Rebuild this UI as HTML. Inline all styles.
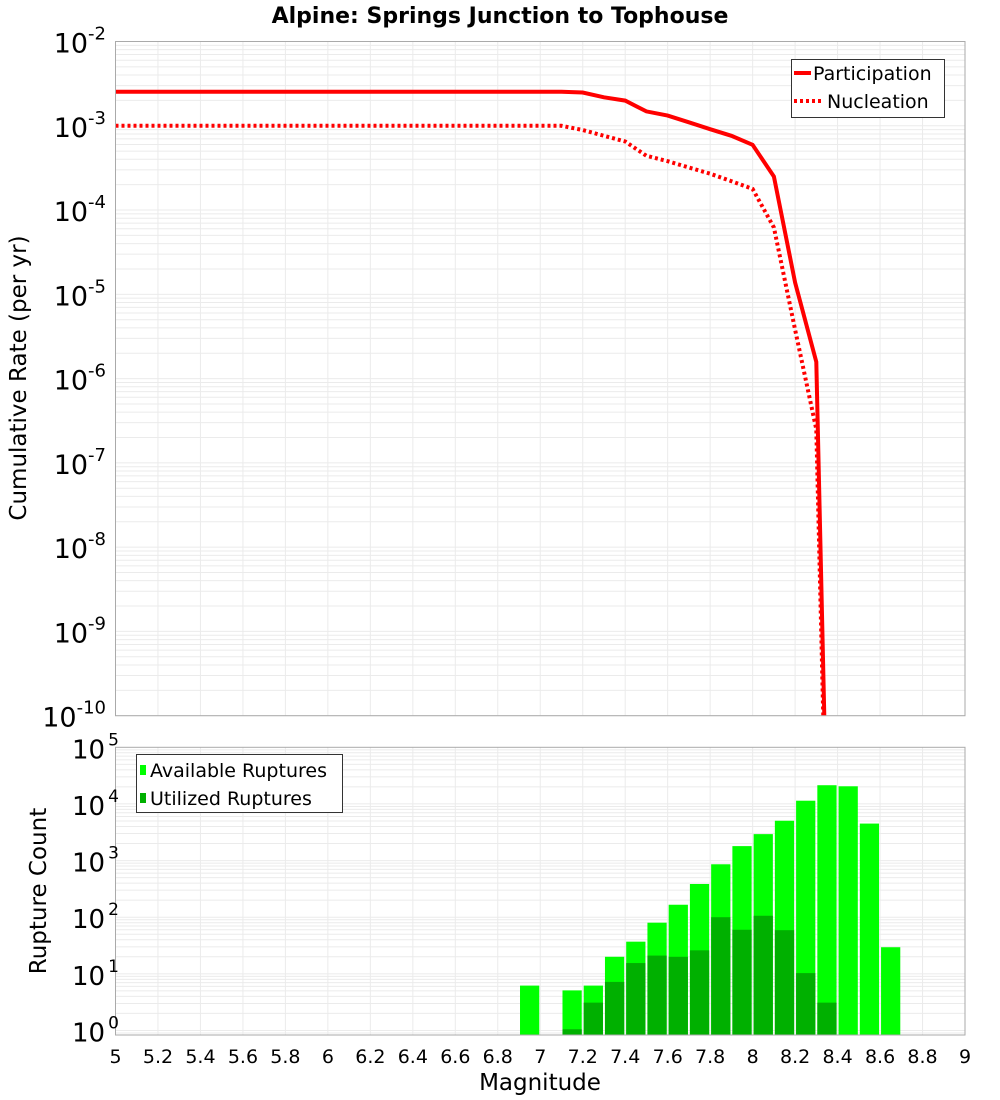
<!DOCTYPE html>
<html><head><meta charset="utf-8"><style>
html,body{margin:0;padding:0;background:#fff;overflow:hidden;width:1000px;height:1100px}
svg{display:block}
svg text{font-family:"DejaVu Sans","Liberation Sans",sans-serif;fill:#000}
</style></head><body>
<svg id="c" width="1000" height="1100" xmlns="http://www.w3.org/2000/svg">
<text x="500" y="23" text-anchor="middle" font-size="22" font-weight="bold">Alpine: Springs Junction to Tophouse</text>
<text transform="translate(26,378) rotate(-90)" text-anchor="middle" font-size="23">Cumulative Rate (per yr)</text>
<text transform="translate(46,891) rotate(-90)" text-anchor="middle" font-size="23">Rupture Count</text>
<text x="540" y="1090" text-anchor="middle" font-size="23">Magnitude</text>
</svg>
<script>
const mags=[5.0,5.1,5.2,5.3,5.4,5.5,5.6,5.7,5.8,5.9,6.0,6.1,6.2,6.3,6.4,6.5,6.6,6.7,6.8,6.9,7.0,7.1,7.2,7.3,7.4,7.5,7.6,7.7,7.8,7.9,8.0,8.1,8.2,8.3,8.4];
const participation=[2.54e-3,2.54e-3,2.54e-3,2.54e-3,2.54e-3,2.54e-3,2.54e-3,2.54e-3,2.54e-3,2.54e-3,2.54e-3,2.54e-3,2.54e-3,2.54e-3,2.54e-3,2.54e-3,2.54e-3,2.54e-3,2.54e-3,2.54e-3,2.54e-3,2.54e-3,2.48e-3,2.18e-3,1.99e-3,1.48e-3,1.32e-3,1.10e-3,9.1e-4,7.6e-4,5.94e-4,2.5e-4,1.38e-5,1.58e-6,1e-17];
const nucleation=[1.0e-3,1.0e-3,1.0e-3,1.0e-3,1.0e-3,1.0e-3,1.0e-3,1.0e-3,1.0e-3,1.0e-3,1.0e-3,1.0e-3,1.0e-3,1.0e-3,1.0e-3,1.0e-3,1.0e-3,1.0e-3,1.0e-3,1.0e-3,1.0e-3,1.0e-3,8.9e-4,7.6e-4,6.5e-4,4.4e-4,3.8e-4,3.2e-4,2.7e-4,2.2e-4,1.78e-4,6.2e-5,3.8e-6,2.5e-7,1e-17];
const binCenters=[6.95,7.15,7.25,7.35,7.45,7.55,7.65,7.75,7.85,7.95,8.05,8.15,8.25,8.35,8.45,8.55,8.65];
const available=[6.2,5.1,6.2,20,37,80,166,386,860,1800,2930,5050,11400,21400,20500,4500,29.5];
const utilized=[0,1.05,3.1,7.2,15.5,21,20,26,100,60,106,59,10.3,3.1,0,0,0];
const xTicks=[5,5.2,5.4,5.6,5.8,6,6.2,6.4,6.6,6.8,7,7.2,7.4,7.6,7.8,8,8.2,8.4,8.6,8.8,9];
const topExps=[-2,-3,-4,-5,-6,-7,-8,-9,-10];
const botExps=[5,4,3,2,1,0];

const NS="http://www.w3.org/2000/svg";
const svg=document.getElementById('c');
function el(t,a,p){const e=document.createElementNS(NS,t);for(const k in a)e.setAttribute(k,a[k]);(p||svg).appendChild(e);return e;}
const L=115.5,R=965;
const x=m=>L+(m-5)/4*(R-L);
const T1=41.5,B1=715.7,yTop=v=>T1+(-2-Math.log10(v))/8*(B1-T1);
const T2=747.3,B2=1035,botMin=-0.08,yBot=v=>T2+(5-Math.log10(v))/(5-botMin)*(B2-T2);

const g1=el('g',{});


for(let e=-10;e<-2;e++)for(let k=1;k<10;k++){const y=yTop(k*Math.pow(10,e));if(y>=T1&&y<=B1){el('line',{x1:L,x2:R,y1:y,y2:y,stroke:'#ebebeb','stroke-width':1},g1);}}
const g2=el('g',{});


for(let e=-1;e<5;e++)for(let k=1;k<10;k++){const y=yBot(k*Math.pow(10,e));if(y>=T2&&y<=B2){el('line',{x1:L,x2:R,y1:y,y2:y,stroke:'#ebebeb','stroke-width':1},g2);}}
xTicks.forEach(t=>{el('line',{x1:x(t),x2:x(t),y1:T1,y2:B1,stroke:'#ebebeb'},g1);el('line',{x1:x(t),x2:x(t),y1:T2,y2:B2,stroke:'#ebebeb'},g2);});

const defs=el('defs',{});
const cp=el('clipPath',{id:'cp1'},defs);el('rect',{x:L,y:T1,width:R-L,height:B1-T1},cp);

function pts(arr){return mags.map((m,i)=>x(m).toFixed(1)+','+yTop(arr[i]).toFixed(1)).join(' ');}
const pl=el('polyline',{points:pts(participation),fill:'none',stroke:'#ff0000','stroke-width':4,'clip-path':'url(#cp1)'});


const nl=el('polyline',{points:pts(nucleation),fill:'none',stroke:'#ff0000','stroke-width':4,'stroke-dasharray':'3,3','clip-path':'url(#cp1)'});



const bw=(x(0.1+5)-x(5));
binCenters.forEach((c,i)=>{
  const x0=x(c-0.05)+1,w=bw-2;
  const ya=yBot(available[i]);
  const b=el('rect',{x:x0,y:ya,width:w,height:B2-ya,fill:'#00ff00'});
  
  
  if(utilized[i]>0){const yu=yBot(utilized[i]);
    const u=el('rect',{x:x0,y:yu,width:w,height:B2-yu,fill:'#00b000'});
    
    }
});

el('rect',{x:L,y:T1,width:R-L,height:B1-T1,fill:'none',stroke:'#aaa'});
el('rect',{x:L,y:T2,width:R-L,height:B2-T2,fill:'none',stroke:'#aaa'});

xTicks.forEach(t=>{const tx=el('text',{x:x(t),y:1063,'text-anchor':'middle','font-size':19});tx.textContent=String(t);
  
  });
topExps.forEach(e=>{const y=yTop(Math.pow(10,e));const tx=el('text',{x:106,y:y+11,'text-anchor':'end','font-size':27});
  tx.innerHTML='10<tspan dy="-13" font-size="18">'+e+'</tspan>';
  
  });
botExps.forEach(e=>{const y=yBot(Math.pow(10,e));const tx=el('text',{x:72,y:y+11,'text-anchor':'start','font-size':26});
  tx.innerHTML='10<tspan dy="-13" font-size="17" dx="3">'+e+'</tspan>';
  
  });

const lg=el('g',{});


el('rect',{x:791.5,y:59.5,width:153,height:58,fill:'#fff',stroke:'#333'},lg);
el('line',{x1:794,x2:811,y1:73,y2:73,stroke:'#f00','stroke-width':4},lg);
el('line',{x1:794,x2:822,y1:101,y2:101,stroke:'#f00','stroke-width':4,'stroke-dasharray':'3,3'},lg);
let t=el('text',{x:813,y:80,'font-size':19},lg);t.textContent='Participation';
t=el('text',{x:827,y:108,'font-size':19},lg);t.textContent='Nucleation';
const lg2=el('g',{});


el('rect',{x:136.5,y:754.5,width:206,height:58,fill:'#fff',stroke:'#333'},lg2);
el('rect',{x:140,y:765,width:6,height:10,fill:'#00ff00'},lg2);
el('rect',{x:140,y:793,width:6,height:10,fill:'#00b000'},lg2);
t=el('text',{x:150,y:777,'font-size':19},lg2);t.textContent='Available Ruptures';
t=el('text',{x:150,y:805,'font-size':19},lg2);t.textContent='Utilized Ruptures';
</script>
</body></html>
